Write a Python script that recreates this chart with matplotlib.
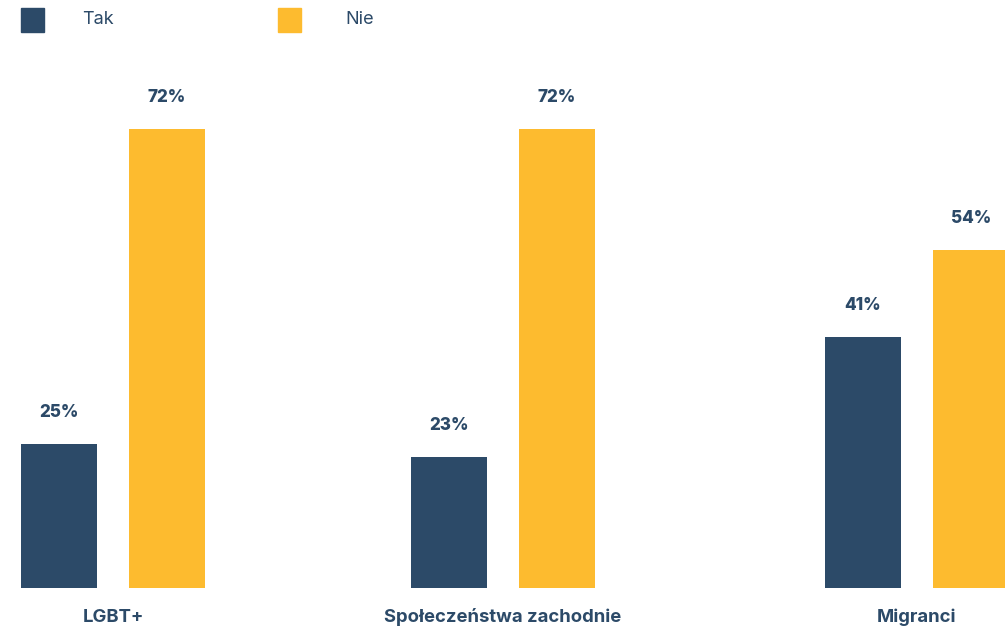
import matplotlib
matplotlib.use("Agg")
import matplotlib.pyplot as plt
from matplotlib.patches import Rectangle
import matplotlib.transforms as mtransforms

categories = ["LGBT+", "Społeczeństwa zachodnie", "Migranci"]
tak = [25, 23, 41]
nie = [72, 72, 54]
series_names = ["Tak", "Nie"]

# layout
group_pos = [0.0, 1.0, 2.061]
NAVY = "#2c4a68"
YELLOW = "#fdbb2f"
FONT = "Inter"
W, H = 1005, 632

fig = plt.figure(figsize=(W / 100, H / 100), dpi=100)
ax = fig.add_axes([0, 1 - 588 / H, 1, 588 / H])
ax.set_xlim(-113 / 390, (1005 - 113) / 390)
ax.set_ylim(3.52, 3.52 + 588 / 6.70)
ax.axis("off")

bw = 76 / 390
off = 54 / 390
for xs, vals, col in [([p - off for p in group_pos], tak, NAVY),
                      ([p + off for p in group_pos], nie, YELLOW)]:
    ax.bar(xs, vals, width=bw, color=col, bottom=0, clip_on=True)
    for x, v in zip(xs, vals):
        ax.annotate(f"{v}%", (x, v), xytext=(0, 23), textcoords="offset pixels",
                    ha="center", va="bottom", fontsize=12.3, fontweight="heavy",
                    color=NAVY, family=FONT)

trans = mtransforms.blended_transform_factory(ax.transData, fig.transFigure)
for p, c in zip(group_pos, categories):
    ax.text(p, 1 - 617 / H, c, transform=trans, ha="center", va="center",
            fontsize=13.3, fontweight="bold", color=NAVY, family=FONT, clip_on=False)

# legend
for (x0, tx), name, col in zip([(21, 82), (278, 345)], series_names, [NAVY, YELLOW]):
    fig.patches.append(Rectangle((x0 / W, 1 - 32 / H), 23 / W, 24 / H,
                                 transform=fig.transFigure, color=col))
    fig.text(tx / W, 1 - 20 / H, name, ha="left", va="center", fontsize=13,
             color=NAVY, family=FONT)

fig.savefig("out.png", dpi=100)
